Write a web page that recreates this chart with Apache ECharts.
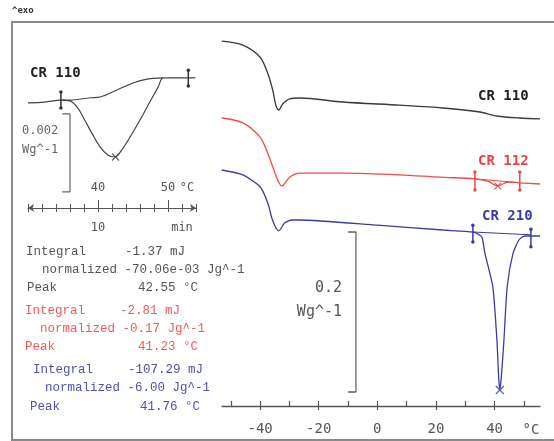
<!DOCTYPE html>
<html>
<head>
<meta charset="utf-8">
<script src="https://cdn.jsdelivr.net/npm/echarts@6/dist/echarts.min.js"></script>
<style>html,body{margin:0;padding:0;background:#fff}#c{width:554px;height:441px}</style>
</head>
<body>
<div id="c"></div>
<script>
// ---- Main DSC curves: temperature (°C) and heat flow (W/g, shifted) ----
const t110 = [-53.1,-45.9,-40.0,-37.4,-35.7,-34.6,-33.6,-32.3,-29.9,-26.5,-11.8,7.7,22.4,35.0,40.8,48.6,55.5];
const hf110 = [-0.024,-0.029,-0.044,-0.064,-0.085,-0.104,-0.110,-0.1025,-0.096,-0.095,-0.100,-0.104,-0.1075,-0.1125,-0.1175,-0.120,-0.121];

const t112 = [-53.1,-45.9,-40.0,-37.4,-35.7,-34.0,-32.6,-29.9,-26.5,-11.8,7.7,21.3,33.3,37.7,41.1,44.6,48.6,55.5];
const hf112 = [-0.120,-0.126,-0.144,-0.164,-0.181,-0.1975,-0.205,-0.194,-0.189,-0.189,-0.191,-0.194,-0.196,-0.199,-0.205,-0.200,-0.201,-0.2025];

const t210 = [-53.1,-45.9,-40.0,-37.4,-36.0,-34.6,-33.6,-31.6,-29.2,-26.5,0,22.4,32.6,34.3,35.7,36.7,39.4,40.8,41.4,41.8,42.3,43.2,44.3,46.3,48.3,50.3,55.5];
const hf210 = [-0.185,-0.191,-0.206,-0.226,-0.245,-0.2575,-0.261,-0.251,-0.2475,-0.2475,-0.254,-0.260,-0.2625,-0.265,-0.269,-0.289,-0.331,-0.3975,-0.444,-0.460,-0.444,-0.3975,-0.331,-0.289,-0.2725,-0.2675,-0.2675];

// integration limits / baselines / peaks (main)
const base112T = [33.3, 48.6], base112HF = [-0.196, -0.201];
const peak112 = [41.1, -0.205];
const base210T = [32.6, 52.4], base210HF = [-0.2625, -0.266];
const peak210 = [41.8, -0.460];
const bracket112 = [[33.3, -0.1875, -0.21], [48.6, -0.1875, -0.21]];
const bracket210 = [[32.6, -0.254, -0.275], [52.4, -0.259, -0.281]];
const scaleMainT = [-10.0, -7.3], scaleMainHF = [-0.2625, -0.4625]; // 0.2 W/g

// ---- Inset (CR 110 small peak), heat flow in mW/g ----
const insT = [30.0,32.4,34.7,36.0,37.1,38.1,39.1,40.3,41.4,42.4,43.4,44.6,46.0,47.4,48.6,49.3,51.0,52.9,53.9];
const insHF = [-1.10,-1.08,-1.03,-1.05,-1.23,-1.54,-1.87,-2.23,-2.44,-2.49,-2.31,-1.97,-1.54,-1.08,-0.69,-0.46,-0.46,-0.46,-0.46];
const insBaseT = [34.7,36.0,38.9,40.3,42.7,45.0,47.0,49.3];
const insBaseHF = [-1.03,-1.03,-0.97,-0.95,-0.77,-0.59,-0.49,-0.46];
const insBracket = [[34.7, -0.82, -1.23], [52.9, -0.26, -0.67]];
const insPeak = [42.5, -2.49];
const scaleInsT = [34.9, 36.0], scaleInsHF = [-1.385, -3.385]; // 2 mW/g = 0.002 W/g

// ---- tick labels ----
const mainTicks = [-50,-40,-30,-20,-10,0,10,20,30,40,50];
const mainMajor = [-40,-20,0,20,40];
const insTempLabels = [40, 50];
const timeTicks = [9.0,9.2,9.4,9.6,9.8,10.0,10.2,10.4,10.6,10.8,11.0,11.2,11.4];
const timeMajor = [10, 11];
const timeLabels = [10];

// ---- results text ----
const groups = [
  {name:'CR 110', color:'#555', rows:[['Integral','-1.37 mJ'],['normalized','-70.06e-03 Jg^-1'],['Peak','42.55 °C']]},
  {name:'CR 112', color:'#f05a5a', rows:[['Integral','-2.81 mJ'],['normalized','-0.17 Jg^-1'],['Peak','41.23 °C']]},
  {name:'CR 210', color:'#5050b0', rows:[['Integral','-107.29 mJ'],['normalized','-6.00 Jg^-1'],['Peak','41.76 °C']]}
];

const C110 = '#3a3a3a', C112 = '#f04a48', C210 = '#3c3ca0';
const zip = (a, b) => a.map((v, i) => [v, b[i]]);
const mono = '"DejaVu Sans Mono", monospace';
const courier = '"Liberation Mono", monospace';

function bracketSeries(list, color, xi, yi) {
  return list.map(b => ({
    type: 'line', xAxisIndex: xi, yAxisIndex: yi, data: [[b[0], b[1]], [b[0], b[2]]],
    symbol: 'circle', symbolSize: 3.5, showSymbol: true, silent: true,
    lineStyle: {color, width: 1.5}, itemStyle: {color}, animation: false
  }));
}
const crossPath = 'path://M0,0L10,10M10,0L0,10';
function crossSeries(p, color, xi, yi, size) {
  return {type: 'scatter', xAxisIndex: xi, yAxisIndex: yi, data: [p], symbol: crossPath, symbolSize: size,
    itemStyle: {color: 'none', borderColor: color, borderWidth: 1.3}, silent: true, animation: false};
}
function lineS(data, color, xi, yi, w, smooth) {
  return {type: 'line', xAxisIndex: xi, yAxisIndex: yi, data, symbol: 'none', smooth: smooth || 0,
    lineStyle: {color, width: w}, silent: true, animation: false};
}

const series = [
  lineS(zip(t110, hf110), C110, 0, 0, 1.3, 0.3),
  lineS(zip(t112, hf112), C112, 0, 0, 1.3, 0.3),
  lineS(zip(t210, hf210), C210, 0, 0, 1.3, 0.2),
  lineS(zip(base112T, base112HF), C112, 0, 0, 1),
  lineS(zip(base210T, base210HF), C210, 0, 0, 1),
  ...bracketSeries(bracket112, C112, 0, 0),
  ...bracketSeries(bracket210, C210, 0, 0),
  crossSeries(peak112, C112, 0, 0, 7),
  crossSeries(peak210, C210, 0, 0, 8),
  lineS([[scaleMainT[0], scaleMainHF[0]], [scaleMainT[1], scaleMainHF[0]], [scaleMainT[1], scaleMainHF[1]], [scaleMainT[0], scaleMainHF[1]]], '#666', 0, 0, 1.3),
  // inset
  lineS(zip(insT, insHF), '#444', 1, 1, 1.2, 0.35),
  lineS(zip(insBaseT, insBaseHF), '#444', 1, 1, 1.1, 0.35),
  ...bracketSeries(insBracket, '#333', 1, 1),
  crossSeries(insPeak, '#444', 1, 1, 7),
  lineS([[scaleInsT[0], scaleInsHF[0]], [scaleInsT[1], scaleInsHF[0]], [scaleInsT[1], scaleInsHF[1]], [scaleInsT[0], scaleInsHF[1]]], '#666', 1, 1, 1.2)
];

// text graphics
const graphics = [
  {type: 'rect', shape: {x: 12, y: 22, width: 560, height: 418}, style: {fill: 'none', stroke: '#8a8a8a', lineWidth: 2}, z: 100},
  {type: 'text', x: 12, y: 11, style: {text: '^exo', font: 'bold 9px ' + mono, fill: '#333', verticalAlign: 'middle'}},
  {type: 'text', x: 478, y: 96, style: {text: groups[0].name, font: 'bold 14px ' + mono, fill: '#222', verticalAlign: 'middle'}},
  {type: 'text', x: 478, y: 161, style: {text: groups[1].name, font: 'bold 14px ' + mono, fill: '#e84440', verticalAlign: 'middle'}},
  {type: 'text', x: 482, y: 216, style: {text: groups[2].name, font: 'bold 14px ' + mono, fill: '#3a3aa8', verticalAlign: 'middle'}},
  {type: 'text', x: 30, y: 73, style: {text: groups[0].name, font: 'bold 14px ' + mono, fill: '#222', verticalAlign: 'middle'}},
  {type: 'text', x: 342, y: 288, style: {text: '0.2', font: '15px ' + mono, fill: '#555', align: 'right', verticalAlign: 'middle'}},
  {type: 'text', x: 342, y: 312, style: {text: 'Wg^-1', font: '15px ' + mono, fill: '#555', align: 'right', verticalAlign: 'middle'}},
  {type: 'text', x: 22, y: 131, style: {text: '0.002', font: '12px ' + mono, fill: '#666', verticalAlign: 'middle'}},
  {type: 'text', x: 22, y: 150, style: {text: 'Wg^-1', font: '12px ' + mono, fill: '#666', verticalAlign: 'middle'}},
  {type: 'text', x: 531, y: 430, style: {text: '°C', font: '14px ' + mono, fill: '#555', align: 'center', verticalAlign: 'middle'}},
  {type: 'text', x: 187, y: 188, style: {text: '°C', font: '12px ' + mono, fill: '#555', align: 'center', verticalAlign: 'middle'}},
  {type: 'text', x: 182, y: 228, style: {text: 'min', font: '12px ' + mono, fill: '#555', align: 'center', verticalAlign: 'middle'}}
];
const rowY = [[252, 270, 288], [311, 329, 347], [370, 388, 407]];
const labX = [[26, 42, 27], [25, 40, 25], [33, 45, 30]];
const valX = [[125, 0, 138], [120, 0, 138], [128, 0, 140]];
groups.forEach((g, gi) => {
  g.rows.forEach((r, ri) => {
    const font = '12.5px ' + courier;
    if (ri === 1) {
      graphics.push({type: 'text', x: labX[gi][ri], y: rowY[gi][ri], style: {text: r[0] + ' ' + r[1], font, fill: g.color, verticalAlign: 'middle'}});
    } else {
      graphics.push({type: 'text', x: labX[gi][ri], y: rowY[gi][ri], style: {text: r[0], font, fill: g.color, verticalAlign: 'middle'}});
      graphics.push({type: 'text', x: valX[gi][ri], y: rowY[gi][ri], style: {text: r[1], font, fill: g.color, verticalAlign: 'middle'}});
    }
  });
});

const chart = echarts.init(document.getElementById('c'), null, {renderer: 'canvas'});
chart.setOption({
  backgroundColor: '#fff',
  animation: false,
  grid: [
    {left: 222, top: 22, width: 318, height: 384},
    {left: 28, top: 60, width: 168, height: 148}
  ],
  xAxis: [
    {type: 'value', gridIndex: 0, min: -53, max: 55.5, position: 'bottom',
     axisLine: {show: true, onZero: false, lineStyle: {color: '#555', width: 1.3}},
     axisTick: {show: true, customValues: mainTicks, inside: true, length: 5, lineStyle: {color: '#555', width: 1.2}},
     axisLabel: {show: true, customValues: mainMajor, margin: 16, color: '#555', fontFamily: mono, fontSize: 14},
     splitLine: {show: false}},
    {type: 'value', gridIndex: 1, min: 30, max: 54, position: 'bottom', offset: -28,
     axisLine: {show: false}, axisTick: {show: false},
     axisLabel: {show: true, customValues: insTempLabels, margin: 2, color: '#555', fontFamily: mono, fontSize: 12},
     splitLine: {show: false}},
    {type: 'value', gridIndex: 1, min: 9, max: 11.4, position: 'bottom',
     axisLine: {show: true, onZero: false, symbol: ['arrow', 'arrow'], symbolSize: [6, 6], lineStyle: {color: '#555', width: 1.2}},
     axisTick: {show: true, customValues: timeTicks, inside: false, length: 4, lineStyle: {color: '#555'}},
     axisLabel: {show: true, customValues: timeLabels, margin: 14, color: '#555', fontFamily: mono, fontSize: 12},
     splitLine: {show: false}},
    {type: 'value', gridIndex: 1, min: 9, max: 11.4, position: 'bottom',
     axisLine: {show: false, onZero: false},
     axisTick: {show: true, customValues: timeTicks, inside: true, length: 4, lineStyle: {color: '#555'}},
     axisLabel: {show: false}, splitLine: {show: false}},
    {type: 'value', gridIndex: 1, min: 9, max: 11.4, position: 'bottom',
     axisLine: {show: false, onZero: false},
     axisTick: {show: true, customValues: timeMajor, inside: true, length: 8, lineStyle: {color: '#555'}},
     axisLabel: {show: false}, splitLine: {show: false}},
    {type: 'value', gridIndex: 0, min: -53, max: 55.5, position: 'bottom',
     axisLine: {show: false, onZero: false},
     axisTick: {show: true, customValues: mainMajor, inside: false, length: 4, lineStyle: {color: '#555', width: 1.2}},
     axisLabel: {show: false}, splitLine: {show: false}}
  ],
  yAxis: [
    {type: 'value', gridIndex: 0, min: -0.48, max: 0, show: false, splitLine: {show: false}},
    {type: 'value', gridIndex: 1, min: -3.8, max: 0, show: false, splitLine: {show: false}}
  ],
  series,
  graphic: graphics
});
</script>
</body>
</html>
